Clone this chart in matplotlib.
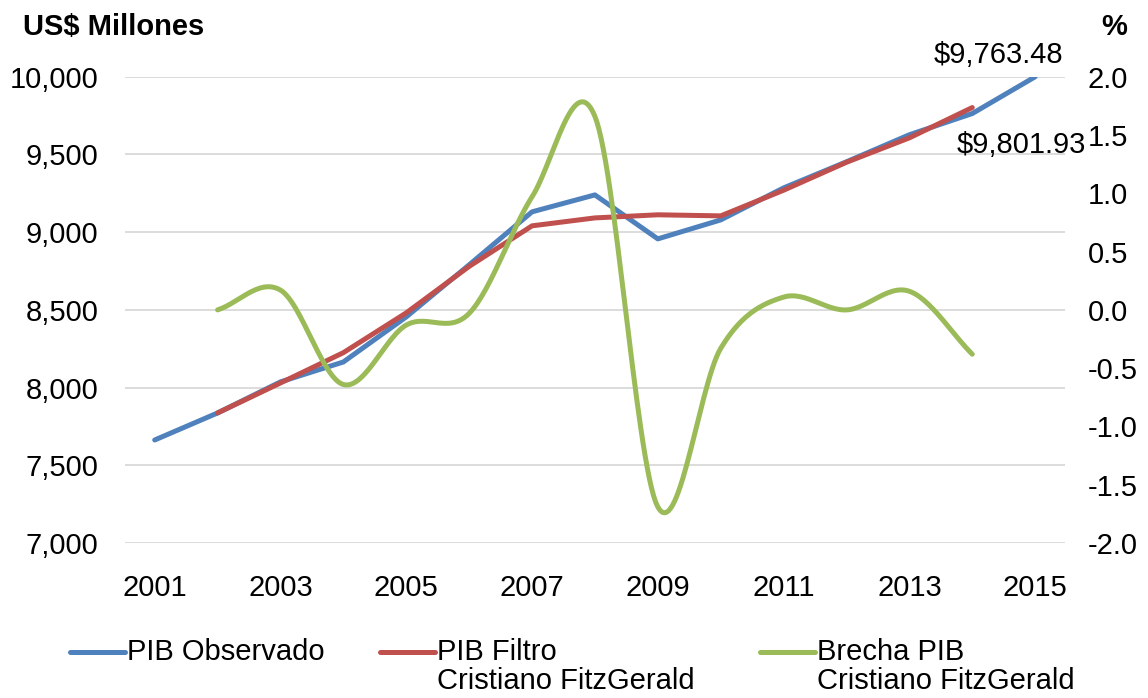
import matplotlib
matplotlib.use("Agg")
import matplotlib.pyplot as plt
from matplotlib.lines import Line2D
import numpy as np

plt.rcParams["font.family"] = ["Liberation Sans", "DejaVu Sans"]

# Data
YEARS_OBS = list(range(2001, 2016))
PIB_OBSERVADO = [7663, 7837, 8037, 8165, 8455, 8790, 9131, 9240,
                 8957, 9079, 9285, 9453, 9627, 9763.48, 10000]

YEARS_CF = list(range(2002, 2015))
PIB_FILTRO = [7837, 8030, 8225, 8481, 8780, 9041, 9092, 9112,
              9105, 9270, 9450, 9607, 9801.93]
BRECHA = [0.0, 0.17, -0.64, -0.13, -0.03, 0.97, 1.66, -1.69,
          -0.33, 0.11, 0.0, 0.16, -0.38]

LEGEND_LABELS = ["PIB Observado",
                 "PIB Filtro\nCristiano FitzGerald",
                 "Brecha PIB\nCristiano FitzGerald"]

BLUE = "#4F81BD"
RED = "#C0504D"
GREEN = "#9BBB59"
GRID = "#D9D9D9"
FS = 21


def smooth(x, y, n=30):
    """Catmull-Rom curve through the points (Excel 'smoothed line')."""
    x = np.asarray(x, float)
    y = np.asarray(y, float)
    px = np.concatenate([[2 * x[0] - x[1]], x, [2 * x[-1] - x[-2]]])
    py = np.concatenate([[2 * y[0] - y[1]], y, [2 * y[-1] - y[-2]]])
    xs, ys = [], []
    t = np.linspace(0, 1, n, endpoint=False)
    for i in range(1, len(px) - 2):
        for p, out in ((px, xs), (py, ys)):
            p0, p1, p2, p3 = p[i - 1], p[i], p[i + 1], p[i + 2]
            b1 = p1 + (p2 - p0) / 6
            b2 = p2 - (p3 - p1) / 6
            out.append((1 - t) ** 3 * p1 + 3 * (1 - t) ** 2 * t * b1
                       + 3 * (1 - t) * t ** 2 * b2 + t ** 3 * p2)
    xs.append([x[-1]])
    ys.append([y[-1]])
    return np.concatenate(xs), np.concatenate(ys)


fig = plt.figure(figsize=(11.48, 6.98), dpi=100)
ax = fig.add_axes([0.109, 0.222, 0.819, 0.668])
ax2 = ax.twinx()

ax.plot(YEARS_OBS, PIB_OBSERVADO, color=BLUE, lw=3.6, solid_capstyle="round")
ax.plot(YEARS_CF, PIB_FILTRO, color=RED, lw=3.6, solid_capstyle="round")
sx, sy = smooth(YEARS_CF, BRECHA)
ax2.plot(sx, sy, color=GREEN, lw=3.6, solid_capstyle="round")

ax.set_xlim(2000.53, 2015.48)
ax.set_ylim(7000, 10000)
ax.set_yticks(np.arange(7000, 10001, 500))
ax.yaxis.set_major_formatter(lambda v, p: f"{v:,.0f}")
ax.set_xticks(range(2001, 2016, 2))
ax.grid(axis="y", color=GRID, lw=1.3)
ax.set_axisbelow(True)

ax2.set_ylim(-2.0, 2.0)
ax2.set_yticks(np.arange(-2.0, 2.01, 0.5))
ax2.yaxis.set_major_formatter(lambda v, p: f"{v + 0.0:.1f}")

for a in (ax, ax2):
    for s in a.spines.values():
        s.set_visible(False)
ax.tick_params(axis="both", length=0, labelsize=FS)
ax.tick_params(axis="x", pad=22)
ax.tick_params(axis="y", pad=19)
ax2.tick_params(axis="y", length=0, labelsize=FS, pad=16)

# data labels for the last observed / filter values
ax.annotate("$9,763.48", (YEARS_OBS[13], PIB_OBSERVADO[13]),
            xytext=(19, 42), textcoords="offset points",
            ha="center", va="center", fontsize=FS, annotation_clip=False)
ax.annotate("$9,801.93", (YEARS_CF[-1], PIB_FILTRO[-1]),
            xytext=(35, -27), textcoords="offset points",
            ha="center", va="center", fontsize=FS, annotation_clip=False)

fig.text(0.02, 0.962, "US$ Millones", fontsize=FS, fontweight="bold",
         ha="left", va="center")
fig.text(0.982, 0.962, "%", fontsize=FS, fontweight="bold",
         ha="right", va="center")

# legend (handle aligned with the first text line, as in the reference)
leg_x = [0.061, 0.331, 0.662]
leg_y = 1 - 652 / 698
for x0, col, lab in zip(leg_x, [BLUE, RED, GREEN], LEGEND_LABELS):
    fig.add_artist(Line2D([x0, x0 + 0.048], [leg_y, leg_y], color=col,
                          lw=3.6, solid_capstyle="round",
                          transform=fig.transFigure))
    fig.text(x0 + 0.050, leg_y + 0.020, lab, fontsize=FS, ha="left",
             va="top", linespacing=1.05)

fig.savefig("out.png", dpi=100)
